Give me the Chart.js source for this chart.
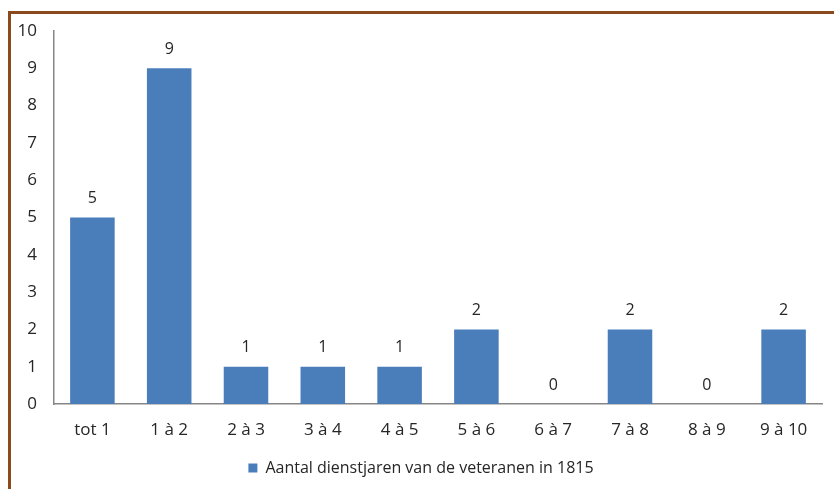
<!DOCTYPE html>
<html>
<head>
<meta charset="utf-8">
<script src="https://cdn.jsdelivr.net/npm/chart.js@4/dist/chart.umd.min.js"></script>
<style>
  body { margin: 0; background: #fff; }
  #wrap { position: relative; width: 834px; height: 489px; overflow: hidden; }
  #frame { position: absolute; left: 8px; top: 11px; width: 900px; height: 600px;
           border-top: 3px solid #8a4a1c; border-left: 3px solid #8a4a1c; }
  canvas { position: absolute; left: 0; top: 0; }
</style>
</head>
<body>
<div id="wrap">
  <div id="frame"></div>
  <canvas id="chart" width="834" height="489"></canvas>
</div>
<script>
// categories (years of service)
var categories = ['tot 1', '1 à 2', '2 à 3', '3 à 4', '4 à 5', '5 à 6', '6 à 7', '7 à 8', '8 à 9', '9 à 10'];
// number of veterans
var veterans = [5, 9, 1, 1, 1, 2, 0, 2, 0, 2];
var yTicks = [0, 1, 2, 3, 4, 5, 6, 7, 8, 9, 10];
var seriesLabel = 'Aantal dienstjaren van de veteranen in 1815';

var fontFam = '"Open Sans", sans-serif';
var textCol = '#262626';

// value labels above the bars
var barValues = {
  id: 'barValues',
  afterUpdate: function(chart) {
    // legend sits a little right of centre in the original
    chart.legend.left += 10;
    chart.legend.right += 10;
  },
  afterDatasetsDraw: function(chart) {
    var ctx = chart.ctx;
    var meta = chart.getDatasetMeta(0);
    ctx.save();
    ctx.font = '16px ' + fontFam;
    ctx.fillStyle = textCol;
    ctx.textAlign = 'center';
    ctx.textBaseline = 'middle';
    meta.data.forEach(function(bar, i) {
      ctx.fillText(String(veterans[i]), bar.x, bar.y - 19);
    });
    ctx.restore();
  }
};

new Chart(document.getElementById('chart'), {
  type: 'bar',
  data: {
    labels: categories,
    datasets: [{
      label: seriesLabel,
      data: veterans,
      backgroundColor: '#4a7ebb',
      borderWidth: 0,
      categoryPercentage: 1,
      barPercentage: 0.58
    }]
  },
  options: {
    responsive: false,
    animation: false,
    layout: { padding: { left: 0, right: 12, top: 31, bottom: 3 } },
    plugins: {
      tooltip: { enabled: false },
      legend: {
        position: 'bottom',
        labels: {
          boxWidth: 9,
          boxHeight: 9,
          color: textCol,
          font: { family: fontFam, size: 16 },
          padding: 10
        }
      }
    },
    scales: {
      x: {
        grid: { display: false, drawTicks: false },
        border: { display: true, color: '#868686', width: 1.5 },
        ticks: { color: textCol, padding: 16, font: { family: fontFam, size: 17 }, maxRotation: 0 },
        afterFit: function(s) { s.height = 46; }
      },
      y: {
        min: 0,
        max: 10,
        grid: { display: false, drawTicks: false },
        border: { display: true, color: '#868686', width: 1.5 },
        ticks: {
          color: textCol,
          padding: 17,
          font: { family: fontFam, size: 17 },
          stepSize: 1,
          callback: function(v) { return yTicks.indexOf(v) >= 0 ? v : ''; }
        },
        afterFit: function(s) { s.width = 54; }
      }
    }
  },
  plugins: [barValues]
});
</script>
</body>
</html>
